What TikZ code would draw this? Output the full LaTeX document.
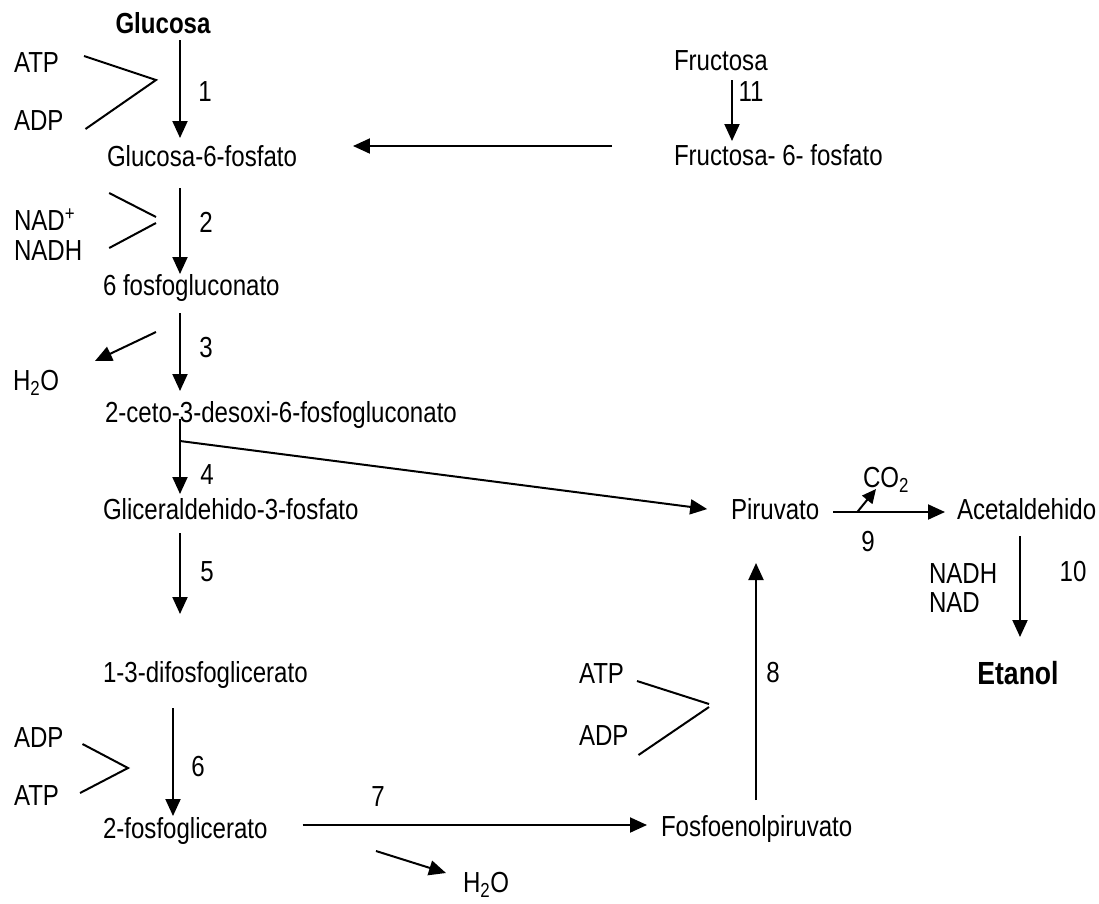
\documentclass[tikz,border=0pt]{standalone}
\usepackage{fontspec}
\setmainfont{Liberation Sans}[FakeStretch=0.83]
\usetikzlibrary{arrows.meta,calc}

\begin{document}
\begin{tikzpicture}[x=1pt,y=-1pt,line width=2pt,
    >={Triangle[length=17pt,width=15pt]},
    font=\fontsize{29}{33}\selectfont]
    \tikzstyle{met}=[anchor=base west, inner sep=0pt, text height=20pt, text depth=6pt]
    \tikzstyle{num}=[inner sep=0pt]
    \tikzstyle{big}=[anchor=base, inner sep=0pt, text height=20pt, text depth=6pt]

    \useasboundingbox (0,0) rectangle (1099,903);

    % columns of the arrows
    \coordinate (c1) at (180,0);
    \coordinate (c6) at (173,0);
    \coordinate (c8) at (756,0);
    \coordinate (c10) at (1020,0);
    \coordinate (c11) at (732,0);

    % main pathway
    \node[big]  (glu)  at (163,33)  {\bfseries Glucosa};
    \node[met]  (g6p)  at (106,166) {Glucosa-6-fosfato};
    \node[met]  (fg6)  at (102,295) {6 fosfogluconato};
    \node[met]  (kdpg) at (104,422) {2-ceto-3-desoxi-6-fosfogluconato};
    \node[met]  (gap)  at (102,519) {Gliceraldehido-3-fosfato};
    \node[met]  (dpg)  at (102,682) {1-3-difosfoglicerato};
    \node[met]  (pg2)  at (102,838) {2-fosfoglicerato};
    \node[met]  (pep)  at (660,836) {Fosfoenolpiruvato};
    \node[met]  (pir)  at (730,519) {Piruvato};
    \node[met]  (acet) at (956,519) {Acetaldehido};
    \node[big]  (eta)  at (1018,684) {\fontsize{32}{35}\selectfont\bfseries Etanol};
    \node[met]  (fru)  at (673,70)  {Fructosa};
    \node[met]  (f6p)  at (673,165) {Fructosa- 6- fosfato};

    % cofactors
    \node[met]  (atp1) at (13,72)   {ATP};
    \node[met]  (adp1) at (13,130)  {ADP};
    \node[met]  (nadp) at (13,230)  {NAD\textsuperscript{+}};
    \node[met]  (nadh) at (13,260)  {NADH};
    \node[met]  (h2oa) at (12,390)  {H\textsubscript{2}O};
    \node[met]  (adp3) at (13,747)  {ADP};
    \node[met]  (atp3) at (13,805)  {ATP};
    \node[met]  (h2ob) at (462,892) {H\textsubscript{2}O};
    \node[met]  (atp2) at (578,683) {ATP};
    \node[met]  (adp2) at (578,745) {ADP};
    \node[met]  (co2)  at (862,487) {CO\textsubscript{2}};
    \node[met]  (nadh2) at (928,583) {NADH};
    \node[met]  (nad2)  at (928,612) {NAD};

    % step numbers
    \node[num] (n1)  at (205,92)   {1};
    \node[num] (n2)  at (206,222)  {2};
    \node[num] (n3)  at (206,348)  {3};
    \node[num] (n4)  at (207,475)  {4};
    \node[num] (n5)  at (207,572)  {5};
    \node[num] (n6)  at (198,767)  {6};
    \node[num] (n7)  at (378,797)  {7};
    \node[num] (n8)  at (773,673)  {8};
    \node[num] (n9)  at (868,542)  {9};
    \node[num] (n10) at (1073,572) {10};
    \node[num] (n11) at (751,92)   {11};

    % reactions
    \draw[->,shorten >=7pt] (glu.south -| c1) -- (g6p.north -| c1);
    \draw[->,shorten <=15pt] (g6p.south -| c1) -- (fg6.north -| c1);
    \draw[->,shorten <=11pt,shorten >=10pt] (fg6.south -| c1) -- (kdpg.north -| c1);
    \draw[->,shorten <=-10pt,shorten >=4pt] (kdpg.south -| c1) -- (gap.north -| c1);
    \draw[->,shorten <=7pt,shorten >=47pt] (gap.south -| c1) -- (dpg.north -| c1);
    \draw[->,shorten <=19pt,shorten >=1pt] (dpg.south -| c6) -- (pg2.north -| c6);
    \draw[->,shorten <=34pt,shorten >=13pt] ([yshift=6pt]pg2.east) -- ([yshift=6pt]pg2.east -| pep.west);
    \draw[->,shorten <=15pt,shorten >=37pt] (pep.north -| c8) -- (pir.south -| c8);
    \draw[->,shorten <=13pt,shorten >=11pt] (pir.east) -- (acet.west);
    \draw[->,shorten <=10pt,shorten >=26pt] (acet.south -| c10) -- (eta.north -| c10);
    \draw[->,shorten <=3pt,shorten >=3pt] (fru.south -| c11) -- (f6p.north -| c11);
    \draw[->,shorten <=61pt,shorten >=55pt] ([yshift=12pt]f6p.west) -- ([yshift=12pt]f6p.west -| g6p.east);

    % branch to piruvato
    \coordinate (d4) at ($(kdpg.south -| c1)+(0,12)$);
    \draw[->,shorten >=23pt] (d4) -- (pir.west);

    % side products
    \coordinate (w3) at (156,332);
    \draw[->] (w3) -- ([xshift=35pt,yshift=8pt]h2oa.north east);
    \coordinate (w7) at (376,851);
    \draw[->] (w7) -- ([xshift=-16pt,yshift=-2pt]h2ob.north west);
    \coordinate (w9) at ($(pir.east)+(37,0)$);
    \draw[->,>={Triangle[length=14pt,width=13pt]}] (w9) -- ([xshift=14pt,yshift=5pt]co2.south west);

    % cofactor brackets
    \coordinate (v1) at (156,80);
    \draw ([xshift=24pt,yshift=9pt]atp1.east) -- (v1) -- ([xshift=21pt,yshift=-6pt]adp1.east);
    \coordinate (v2) at (156,217);
    \coordinate (v2b) at (156,223);
    \draw ([xshift=33pt,yshift=30pt]nadp.east) -- (v2);
    \draw (v2b) -- ([xshift=26pt,yshift=5pt]nadh.east);
    \coordinate (v6) at (128,768);
    \draw ([xshift=18pt,yshift=-4pt]adp3.east) -- (v6) -- ([xshift=20pt,yshift=5pt]atp3.east);
    \coordinate (v8) at (709,704);
    \coordinate (v8b) at (709,707);
    \draw ([xshift=12pt,yshift=-5pt]atp2.east) -- (v8);
    \draw (v8b) -- ([xshift=9pt,yshift=-17pt]adp2.east);

\end{tikzpicture}
\end{document}
